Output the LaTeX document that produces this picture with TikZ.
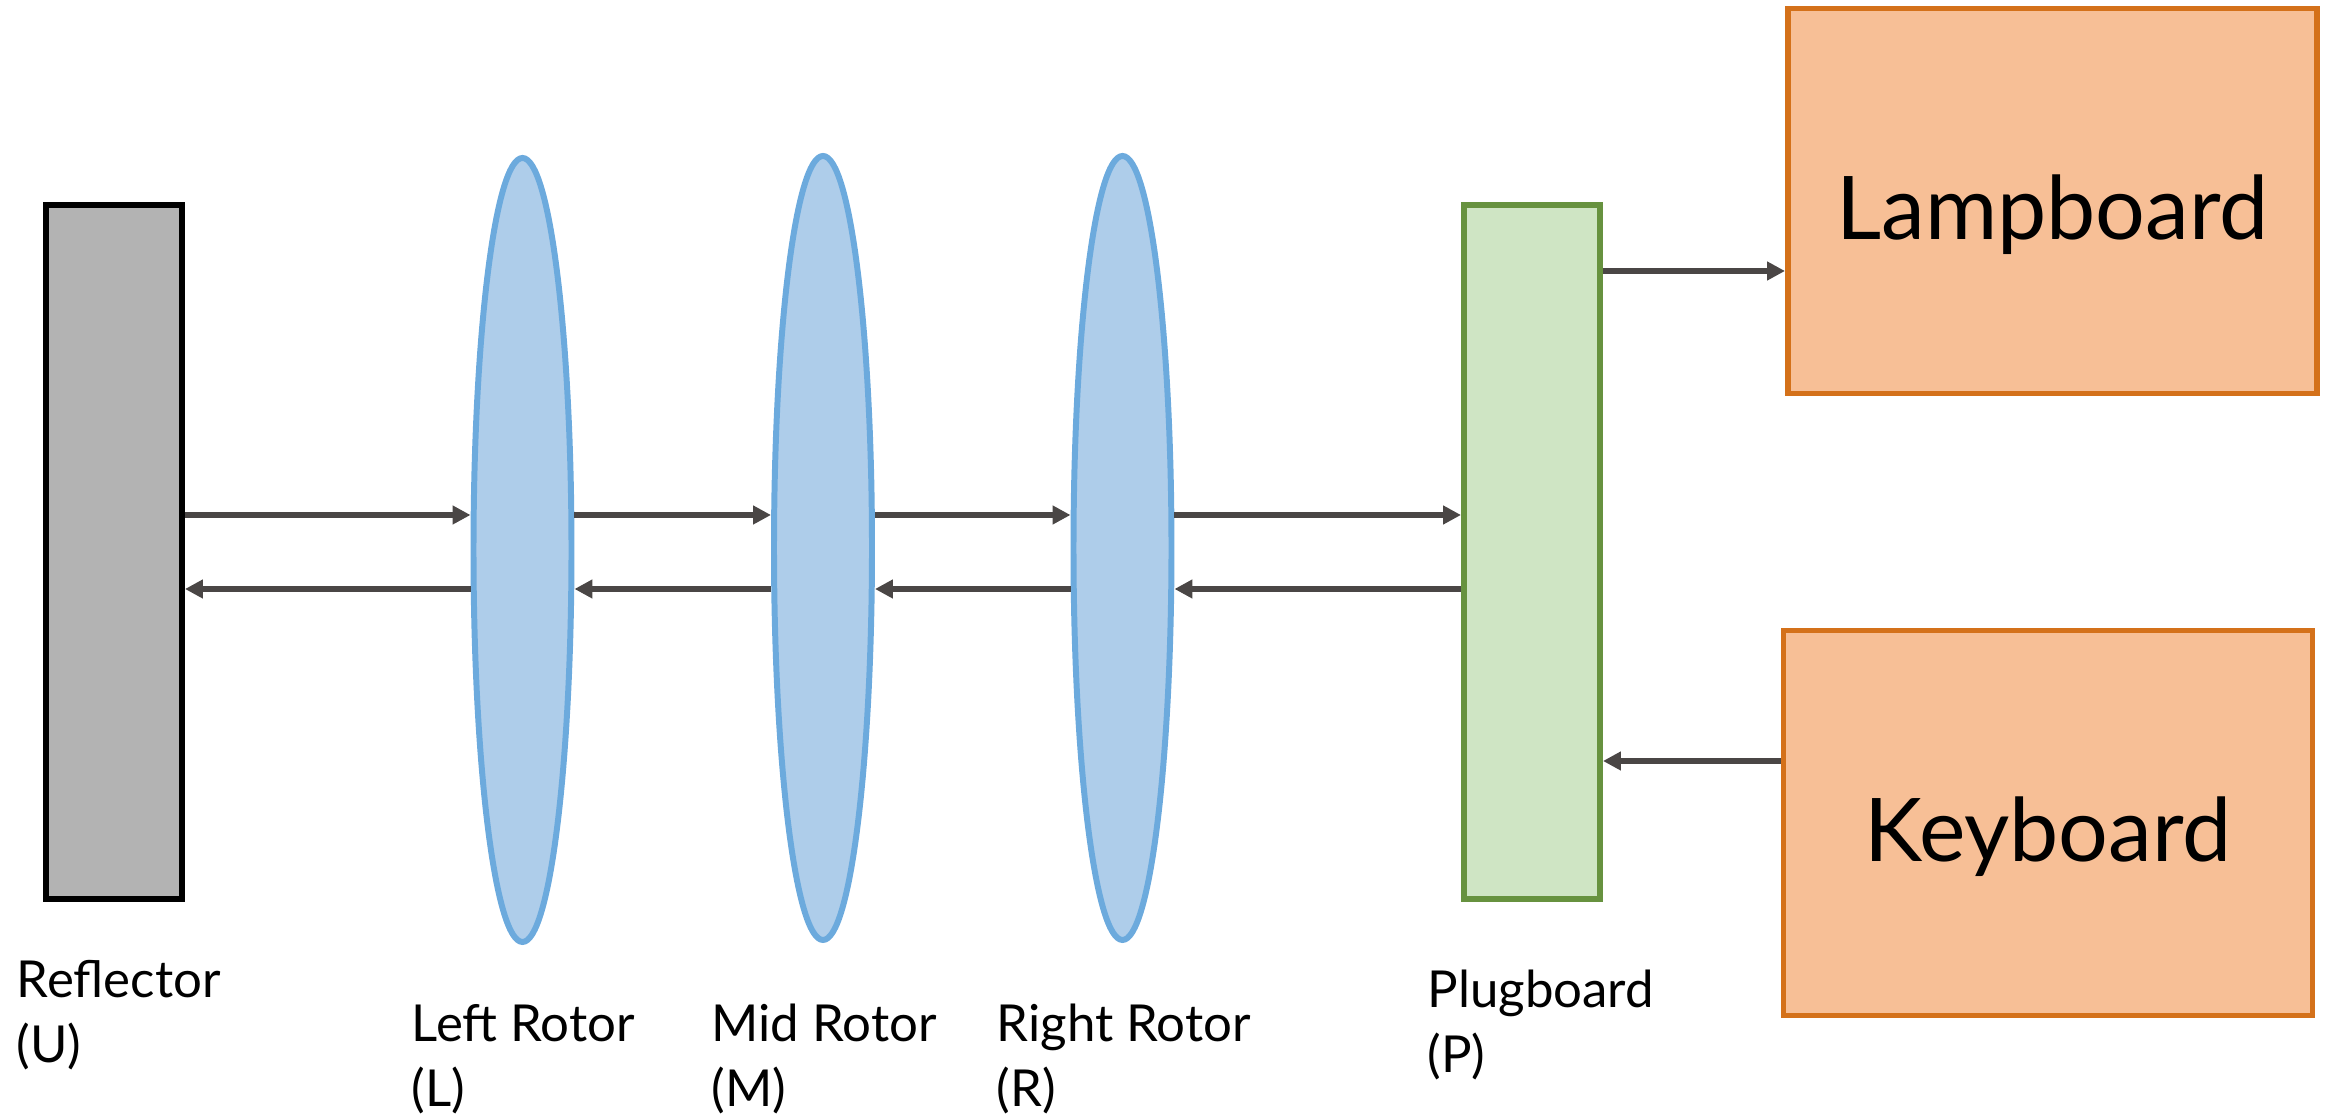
\documentclass[tikz,border=0pt]{standalone}
\usepackage{fontspec}
\setmainfont{Lato}
\usetikzlibrary{shapes.geometric, arrows.meta, positioning, calc}
\definecolor{RefGray}{HTML}{B3B3B3}
\definecolor{RotorFill}{HTML}{AECDEA}
\definecolor{RotorLine}{HTML}{6CAADD}
\definecolor{PlugFill}{HTML}{CFE5C4}
\definecolor{PlugLine}{HTML}{67923F}
\definecolor{IOFill}{HTML}{F7BF96}
\definecolor{IOLine}{HTML}{D4711A}
\definecolor{WireGray}{HTML}{4A4645}

\begin{document}
\begin{tikzpicture}[
    >={Triangle[length=5.1pt, width=5.1pt]},
    reflector/.style={
        rectangle,
        fill=RefGray,
        draw=black,
        line width=1.7pt,
        minimum width=1.36cm,
        minimum height=6.94cm
    },
    rotor/.style={
        ellipse,
        fill=RotorFill,
        draw=RotorLine,
        line width=1.7pt,
        inner sep=0pt,
        minimum width=0.98cm,
        minimum height=7.84cm
    },
    plug/.style={
        rectangle,
        fill=PlugFill,
        draw=PlugLine,
        line width=1.7pt,
        minimum width=1.36cm,
        minimum height=6.94cm
    },
    io/.style={
        rectangle,
        fill=IOFill,
        draw=IOLine,
        line width=1.7pt,
        minimum width=5.29cm,
        minimum height=3.85cm,
        text height=22pt,
        text depth=0pt,
        font=\fontsize{25}{30}\selectfont
    },
    flow/.style={draw=WireGray, line width=1.5pt, ->},
    lbl/.style={anchor=base west, inner sep=0pt, align=left,
        font=\fontsize{14.5}{18.5}\selectfont}
]
\useasboundingbox (0,0) rectangle (23.28,-11.18);

\node[reflector] (U) at (1.14, -5.52) {};
\node[rotor] (L) at (5.225, -5.50) {};
\node[rotor] (M) at (8.23, -5.48) {};
\node[rotor] (R) at (11.225, -5.48) {};
\node[plug] (P) at (15.32, -5.52) {};
\node[io] (Lamp) at (20.525, -2.01) {Lampboard};
\node[io] (Key) at (20.48, -8.23) {Keyboard};

% labels under the parts (base = last line)
\node[lbl] (lblU) at (0.16, -10.63) {Reflector\\(U)};
\node[lbl] (lblL) at (4.11, -11.07) {Left Rotor\\(L)};
\node[lbl] (lblM) at (7.11, -11.07) {Mid Rotor\\(M)};
\node[lbl] (lblR) at (9.96, -11.07) {Right Rotor\\(R)};
\node[lbl] (lblP) at (14.27, -10.73) {Plugboard\\(P)};

% forward path
\draw[flow] ([yshift=3.7mm]U.east) -- ([yshift=3.7mm]U.east -| L.west);
\draw[flow] ([yshift=3.7mm]U.east -| L.east) -- ([yshift=3.7mm]U.east -| M.west);
\draw[flow] ([yshift=3.7mm]U.east -| M.east) -- ([yshift=3.7mm]U.east -| R.west);
\draw[flow] ([yshift=3.7mm]U.east -| R.east) -- ([yshift=3.7mm]P.west);

% return path
\draw[flow] ([yshift=-3.7mm]P.west) -- ([yshift=-3.7mm]P.west -| R.east);
\draw[flow] ([yshift=-3.7mm]P.west -| R.west) -- ([yshift=-3.7mm]P.west -| M.east);
\draw[flow] ([yshift=-3.7mm]P.west -| M.west) -- ([yshift=-3.7mm]P.west -| L.east);
\draw[flow] ([yshift=-3.7mm]P.west -| L.west) -- ([yshift=-3.7mm]U.east);

% keyboard in, lampboard out
\draw[flow] ([yshift=-20.9mm]P.east -| Key.west) -- ([yshift=-20.9mm]P.east);
\draw[flow] ([yshift=28.1mm]P.east) -- ([yshift=28.1mm]P.east -| Lamp.west);

\end{tikzpicture}
\end{document}
